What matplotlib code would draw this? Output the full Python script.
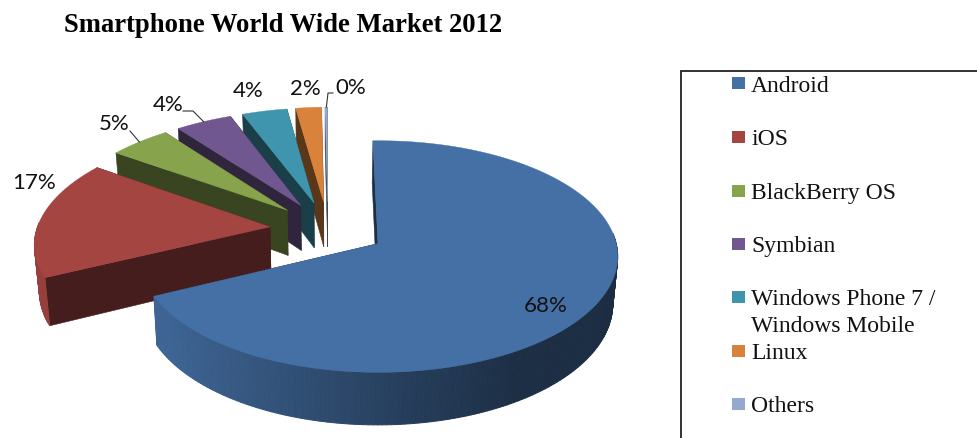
import numpy as np
import matplotlib
matplotlib.use("Agg")
import matplotlib.pyplot as plt
from matplotlib.colors import to_rgb

categories = ["Android", "iOS", "BlackBerry OS", "Symbian", "Windows Phone 7 /\nWindows Mobile", "Linux", "Others"]
shares = [68.1, 16.9, 4.8, 4.4, 3.5, 2.0, 0.2]
colors = ["#4570a5", "#a54542", "#87a34c", "#70578f", "#3f95ae", "#d8823c", "#93a9cf"]

# layout of the pie, in figure pixels
cx, cy = 328, 230
rx, ry = 234, 111
persp = 0.11
tilt = -0.012
explode = 0.25
depth = 46
bottom_scale = 0.983


def project(u, v, lower=False):
    f = 1 / (1 + persp * v)
    x = rx * u * f
    y = ry * v * f
    if lower:
        return cx + x * bottom_scale, cy - y + tilt * x + depth * f
    return cx + x, cy - y + tilt * x


def shade(color, k):
    return tuple(c * k for c in to_rgb(color))


fig = plt.figure(figsize=(9.77, 4.39), dpi=100)
ax = fig.add_axes([0, 0, 1, 1])
ax.set_xlim(0, 977)
ax.set_ylim(439, 0)
ax.axis("off")

edges = np.concatenate([[0], np.cumsum(shares)]) / sum(shares) * 2 * np.pi
arc_mid = []

# back slices first so the front ones paint over them
for i in range(len(shares) - 1, -1, -1):
    t0, t1 = edges[i], edges[i + 1]
    mid = (t0 + t1) / 2
    ou = explode * np.sin(mid)
    ov = explode * np.cos(mid)
    th = np.linspace(t0, t1, max(int(np.degrees(t1 - t0)), 2) + 1)
    us = ou + np.sin(th)
    vs = ov + np.cos(th)

    # cut faces from the slice tip
    for u, v in [(us[-1], vs[-1]), (us[0], vs[0])]:
        p0 = project(ou, ov)
        p1 = project(u, v)
        p2 = project(u, v, True)
        p3 = project(ou, ov, True)
        ax.fill(*zip(p0, p1, p2, p3), color=shade(colors[i], 0.42), lw=0.4)

    # outer wall, shaded strip by strip, only the part turned towards the viewer
    for j in range(len(th) - 1):
        tm = (th[j] + th[j + 1]) / 2
        if np.cos(tm) > 0.06:
            continue
        a = project(us[j], vs[j])
        b = project(us[j + 1], vs[j + 1])
        c = project(us[j + 1], vs[j + 1], True)
        d = project(us[j], vs[j], True)
        k = np.interp(np.sin(tm), [-1, -0.85, 0, 0.5, 1], [0.92, 0.9, 0.58, 0.42, 0.4])
        ax.fill(*zip(a, b, c, d), color=shade(colors[i], k), lw=0.7)

    # top face
    top = [project(ou, ov)] + [project(u, v) for u, v in zip(us, vs)]
    ax.fill(*zip(*top), color=colors[i], lw=0.3)
    arc_mid.append(project(ou + np.sin(mid), ov + np.cos(mid)))

arc_mid = arc_mid[::-1]

# value labels
label_pos = [(546, 306), (34, 183), (114, 124), (168, 105), (248, 91), (305, 89), (351, 88)]
for v, (lx, ly) in zip(shares, label_pos):
    ax.text(lx, ly, f"{v:.0f}%", family="Lato", fontsize=16, color="#111111", ha="center", va="center")

# leader lines for the small slices
ax.plot([130, arc_mid[2][0]], [132, arc_mid[2][1]], color="#333333", lw=0.8)
ax.plot([183, 193, arc_mid[3][0]], [112, 112, arc_mid[3][1]], color="#333333", lw=0.8)
ax.plot([333, 328, arc_mid[6][0]], [94, 94, arc_mid[6][1]], color="#333333", lw=0.8)

ax.text(64, 25, "Smartphone World Wide Market 2012", family="Liberation Serif", fontweight="bold",
        fontsize=19.2, color="black", ha="left", va="center")

# legend box runs off the right and bottom of the figure
ax.plot([680.5, 680.5, 977], [439, 71.5, 71.5], color="#222222", lw=1.3, solid_joinstyle="miter")

legend_y = [86, 140, 194, 247, 313, 354, 407]
marker_y = [84, 138, 192, 245, 298, 352, 405]
for name, col, ty, my in zip(categories, colors, legend_y, marker_y):
    ax.fill([732, 745, 745, 732], [my - 6, my - 6, my + 6, my + 6], color=col, lw=0)
    ax.text(751, ty, name, family="Liberation Serif", fontsize=17, color="#111111",
            ha="left", va="center", linespacing=1.42)

fig.savefig("out.png", dpi=100)
